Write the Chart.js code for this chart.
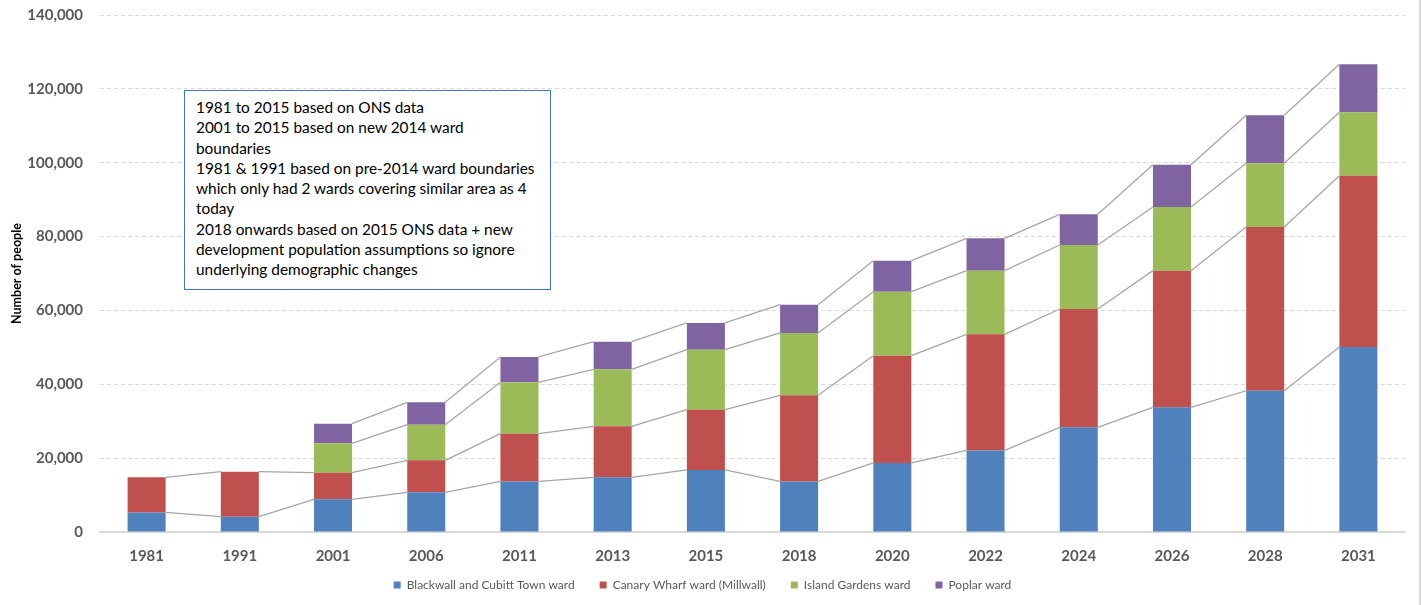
<!DOCTYPE html>
<html>
<head>
<meta charset="utf-8">
<script src="https://cdn.jsdelivr.net/npm/chart.js@4.4.1/dist/chart.umd.min.js"></script>
<style>
  html, body { margin: 0; padding: 0; background: #fff; }
  #wrap { position: relative; width: 1419px; height: 605px; border-right: 2px solid #D9D9D9; }
  canvas { display: block; }
  #note {
    position: absolute; left: 184px; top: 90px; width: 367px; height: 200px;
    box-sizing: border-box; border: 1.3px solid #4472C4; background: #fff;
    font-family: Lato, "Open Sans", sans-serif; font-size: 15.4px; line-height: 20.3px;
    padding: 6px 0 0 11px; white-space: pre; color: #000;
  }
</style>
</head>
<body>
<div id="wrap">
  <canvas id="chart" width="1419" height="605"></canvas>
  <div id="note">1981 to 2015 based on ONS data
2001 to 2015 based on new 2014 ward
boundaries
1981 &amp; 1991 based on pre-2014 ward boundaries
which only had 2 wards covering similar area as 4
today
2018 onwards based on 2015 ONS data + new
development population assumptions so ignore
underlying demographic changes</div>
</div>
<script>
// Years shown on the category axis
const years = ['1981', '1991', '2001', '2006', '2011', '2013', '2015', '2018', '2020', '2022', '2024', '2026', '2028', '2031'];

// Population per ward (number of people); 1981 and 1991 only had two wards
const blackwallCubittTown = [5300, 4150, 8850, 10750, 13700, 14800, 16800, 13700, 18700, 22100, 28350, 33750, 38250, 50100];
const canaryWharf         = [9500, 12180, 7210, 8660, 12930, 13820, 16330, 23310, 29050, 31430, 32040, 37020, 44340, 46390];
const islandGardens       = [null, null, 7960, 9650, 13900, 15430, 16250, 16880, 17330, 17240, 17330, 17240, 17250, 17160];
const poplar              = [null, null, 5310, 6060, 6860, 7490, 7220, 7670, 8390, 8760, 8310, 11460, 12990, 13000];

// Value axis ticks
const yTicks = [0, 20000, 40000, 60000, 80000, 100000, 120000, 140000];

const seriesNames = ['Blackwall and Cubitt Town ward', 'Canary Wharf ward (Millwall)', 'Island Gardens ward', 'Poplar ward'];
const seriesColors = ['#4F81BD', '#C0504D', '#9BBB59', '#8064A2'];
const seriesData = [blackwallCubittTown, canaryWharf, islandGardens, poplar];

// Connects the top of each stacked segment to the same segment in the next bar
const seriesLines = {
  id: 'seriesLines',
  afterDatasetsDraw(chart) {
    const ctx = chart.ctx;
    ctx.save();
    ctx.strokeStyle = '#A6A6A6';
    ctx.lineWidth = 1.3;
    chart.data.datasets.forEach((ds, di) => {
      const meta = chart.getDatasetMeta(di);
      for (let i = 0; i < meta.data.length - 1; i++) {
        if (ds.data[i] == null || ds.data[i + 1] == null) continue;
        const a = meta.data[i], b = meta.data[i + 1];
        ctx.beginPath();
        ctx.moveTo(a.x + a.width / 2, a.y);
        ctx.lineTo(b.x - b.width / 2, b.y);
        ctx.stroke();
      }
    });
    ctx.restore();
  }
};

// Pulls the legend row a little closer to the axis labels
const legendLift = {
  id: 'legendLift',
  afterLayout(chart) {
    const lg = chart.legend;
    if (lg) { lg.top -= 18; lg.bottom -= 18; }
  }
};

const tickFont = { family: 'Lato', size: 15, weight: 'bold' };

new Chart(document.getElementById('chart'), {
  type: 'bar',
  data: {
    labels: years,
    datasets: seriesData.map((d, i) => ({
      label: seriesNames[i],
      data: d,
      backgroundColor: seriesColors[i],
      borderWidth: 0,
      categoryPercentage: 1,
      barPercentage: 0.408
    }))
  },
  options: {
    responsive: false,
    animation: false,
    layout: { padding: { left: 0, right: 14, top: 15, bottom: -14 } },
    plugins: {
      legend: {
        position: 'bottom',
        labels: {
          boxWidth: 7, boxHeight: 7, padding: 25,
          color: '#595959',
          font: { family: 'Lato', size: 12 }
        }
      },
      tooltip: { enabled: false }
    },
    scales: {
      x: {
        stacked: true,
        grid: { display: false },
        border: { display: true, color: '#D9D9D9', width: 2 },
        ticks: { color: '#595959', font: tickFont, padding: 7 }
      },
      y: {
        stacked: true,
        min: yTicks[0],
        max: yTicks[yTicks.length - 1],
        afterBuildTicks(scale) { scale.ticks = yTicks.map(v => ({ value: v })); },
        ticks: {
          color: '#595959', font: tickFont, padding: 3,
          callback: v => v.toLocaleString('en-US')
        },
        grid: { color: '#D9D9D9', lineWidth: 1, drawTicks: true, tickLength: 14, tickColor: 'rgba(0,0,0,0)' },
        border: { display: false, dash: [4, 3] },
        title: {
          display: true, text: 'Number of people', color: '#000',
          font: { family: 'Lato', size: 12.5, weight: 'bold' },
          padding: { top: 9, bottom: 0 }
        },
        afterFit(scale) { scale.width = 100; }
      }
    }
  },
  plugins: [seriesLines, legendLift]
});
</script>
</body>
</html>
